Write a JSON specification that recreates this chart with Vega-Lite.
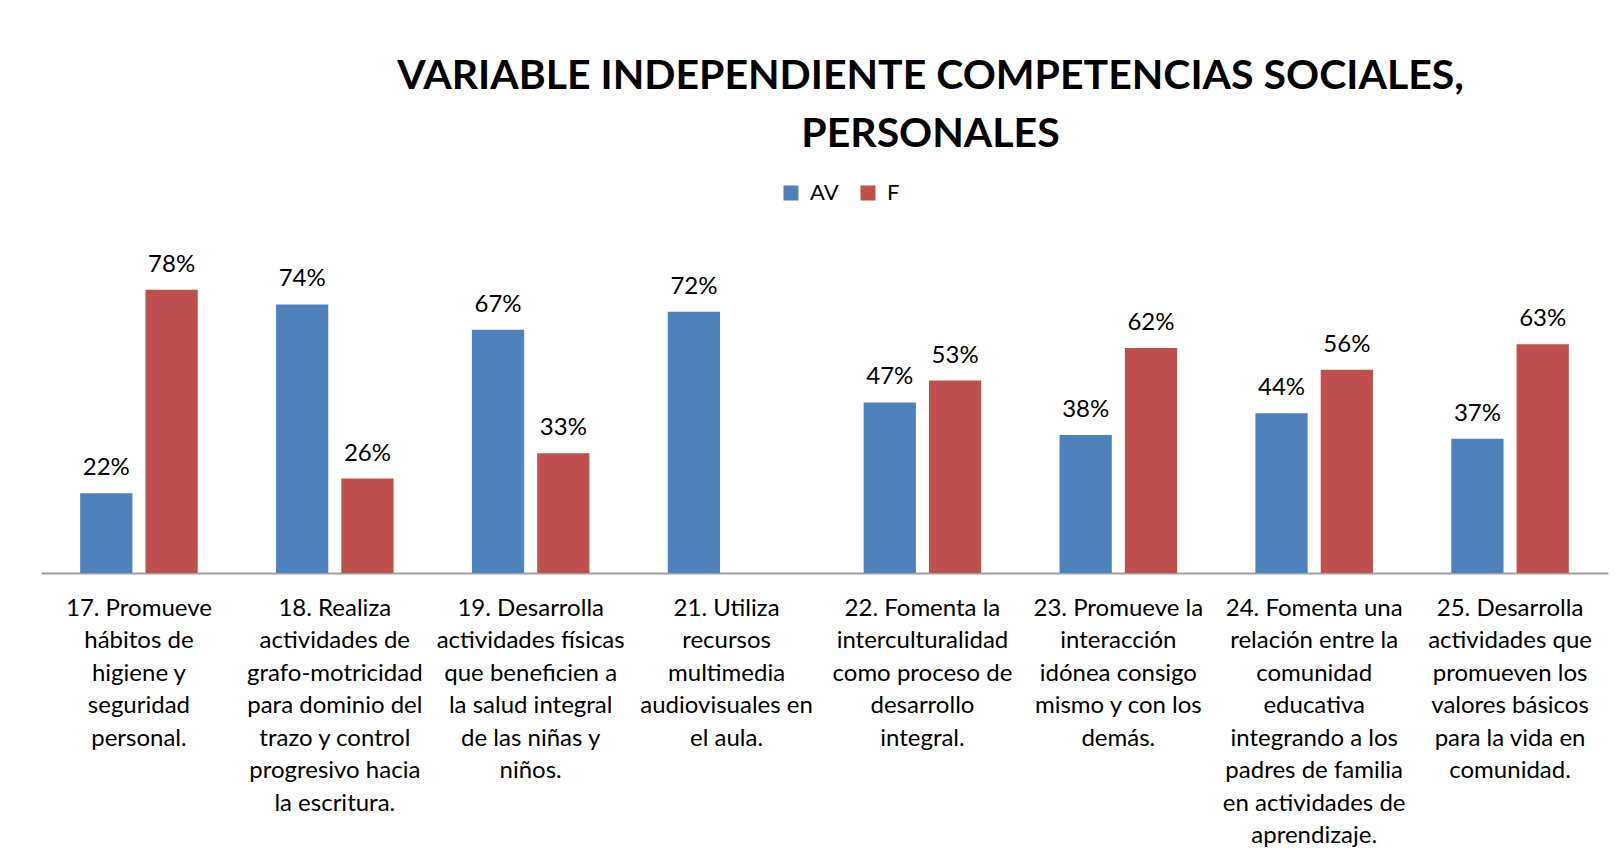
{
  "$schema": "https://vega.github.io/schema/vega-lite/v6.json",
  "width": 1567,
  "height": 363,
  "autosize": {"type": "none"},
  "padding": {"left": 41, "top": 210, "right": 13, "bottom": 290},
  "background": "white",
  "title": {
    "text": ["VARIABLE INDEPENDIENTE COMPETENCIAS SOCIALES,", "PERSONALES"],
    "font": "Lato",
    "fontSize": 41,
    "fontWeight": "bold",
    "color": "black",
    "lineHeight": 58,
    "anchor": "middle",
    "dx": 106,
    "offset": 26
  },
  "data": {
    "values": [
      {"item": "17. Promueve|hábitos de|higiene y|seguridad|personal.", "serie": "AV", "valor": 0.22},
      {"item": "17. Promueve|hábitos de|higiene y|seguridad|personal.", "serie": "F", "valor": 0.78},
      {"item": "18. Realiza|actividades de|grafo-motricidad|para dominio del|trazo y control|progresivo hacia|la escritura.", "serie": "AV", "valor": 0.74},
      {"item": "18. Realiza|actividades de|grafo-motricidad|para dominio del|trazo y control|progresivo hacia|la escritura.", "serie": "F", "valor": 0.26},
      {"item": "19. Desarrolla|actividades físicas|que beneficien a|la salud integral|de las niñas y|niños.", "serie": "AV", "valor": 0.67},
      {"item": "19. Desarrolla|actividades físicas|que beneficien a|la salud integral|de las niñas y|niños.", "serie": "F", "valor": 0.33},
      {"item": "21. Utiliza|recursos|multimedia|audiovisuales en|el aula.", "serie": "AV", "valor": 0.72},
      {"item": "22. Fomenta la|interculturalidad|como proceso de|desarrollo|integral.", "serie": "AV", "valor": 0.47},
      {"item": "22. Fomenta la|interculturalidad|como proceso de|desarrollo|integral.", "serie": "F", "valor": 0.53},
      {"item": "23. Promueve la|interacción|idónea consigo|mismo y con los|demás.", "serie": "AV", "valor": 0.38},
      {"item": "23. Promueve la|interacción|idónea consigo|mismo y con los|demás.", "serie": "F", "valor": 0.62},
      {"item": "24. Fomenta una|relación entre la|comunidad|educativa|integrando a los|padres de familia|en actividades de|aprendizaje.", "serie": "AV", "valor": 0.44},
      {"item": "24. Fomenta una|relación entre la|comunidad|educativa|integrando a los|padres de familia|en actividades de|aprendizaje.", "serie": "F", "valor": 0.56},
      {"item": "25. Desarrolla|actividades que|promueven los|valores básicos|para la vida en|comunidad.", "serie": "AV", "valor": 0.37},
      {"item": "25. Desarrolla|actividades que|promueven los|valores básicos|para la vida en|comunidad.", "serie": "F", "valor": 0.63}
    ]
  },
  "encoding": {
    "x": {
      "field": "item",
      "type": "nominal",
      "sort": null,
      "scale": {"paddingInner": 0.4, "paddingOuter": 0.2},
      "axis": {
        "title": null,
        "labelAngle": 0,
        "labelExpr": "split(datum.label, '|')",
        "labelFont": "Lato",
        "labelFontSize": 24,
        "labelColor": "black",
        "labelLineHeight": 32.5,
        "labelPadding": 23,
        "labelLimit": 0,
        "ticks": false,
        "domainColor": "#a0a0a0",
        "domainWidth": 2,
        "grid": false
      }
    },
    "xOffset": {
      "field": "serie",
      "type": "nominal",
      "scale": {"paddingInner": 0.2, "paddingOuter": 0}
    },
    "y": {
      "field": "valor",
      "type": "quantitative",
      "scale": {"domain": [0, 1]},
      "axis": null
    }
  },
  "layer": [
    {
      "mark": {"type": "bar"},
      "encoding": {
        "color": {
          "field": "serie",
          "type": "nominal",
          "scale": {"domain": ["AV", "F"], "range": ["#4F81BD", "#C0504D"]},
          "legend": {
            "title": null,
            "orient": "none",
            "direction": "horizontal",
            "legendX": 739,
            "legendY": -28,
            "padding": 0,
            "symbolType": "square",
            "symbolSize": 225,
            "symbolStrokeWidth": 0,
            "labelFont": "Lato",
            "labelFontSize": 22,
            "labelColor": "black",
            "labelOffset": 8,
            "columnPadding": 18
          }
        }
      }
    },
    {
      "mark": {"type": "text", "font": "Lato", "fontSize": 24, "color": "black", "baseline": "alphabetic", "dy": -18},
      "encoding": {
        "text": {"field": "valor", "type": "quantitative", "format": ".0%"}
      }
    }
  ],
  "config": {"view": {"stroke": null}}
}
